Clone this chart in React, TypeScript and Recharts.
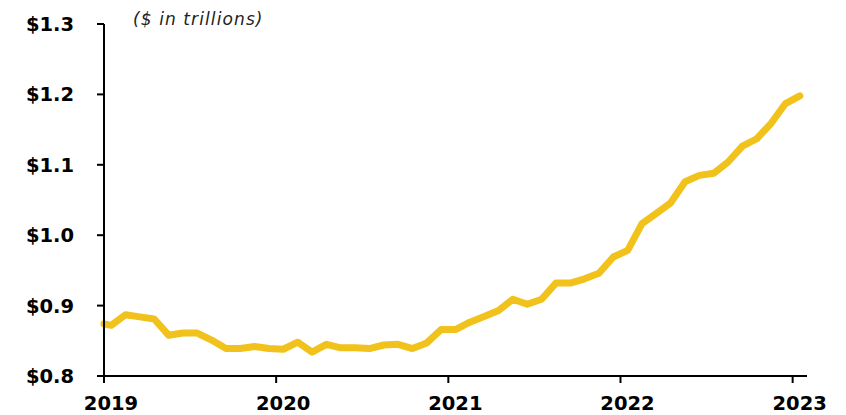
import { LineChart, Line, XAxis, YAxis } from "recharts";

// value at the left edge of the plot (line starts at the axis)
const startValue = 0.874;

// monthly values, Jan 2019 .. Jan 2023 ($ trillions)
const values = [
  0.872, 0.887, 0.884, 0.881, 0.858, 0.861, 0.861, 0.851, 0.839, 0.839, 0.842, 0.839,
  0.838, 0.848, 0.834, 0.845, 0.84, 0.84, 0.839, 0.844, 0.845, 0.839, 0.847, 0.866,
  0.866, 0.8765, 0.8846, 0.893, 0.909, 0.902, 0.909, 0.932, 0.932, 0.938, 0.946, 0.969,
  0.9785, 1.0165, 1.031, 1.046, 1.076, 1.085, 1.088, 1.104, 1.1265, 1.137, 1.159, 1.187,
  1.198,
];

const yearTicks = [0, 12, 24, 36, 48];
const firstYear = 2019;
const yTicks = [0.8, 0.9, 1.0, 1.1, 1.2, 1.3];

const data = [
  { m: 0, v: startValue },
  ...values.map((v, i) => ({ m: i + 0.5, v })),
];

const FONT = "'DejaVu Sans', Verdana, sans-serif";
const tickStyle = { fill: "#000", fontSize: 19.5, fontWeight: 700, fontFamily: FONT };

export default function App() {
  return (
    <div style={{ position: "fixed", left: 0, top: 0, width: 846, height: 415, background: "#fff" }}>
      <LineChart width={846} height={415} data={data} margin={{ top: 24, right: 39, bottom: 0, left: 0 }}>
        <XAxis
          dataKey="m"
          type="number"
          domain={[0, 49]}
          ticks={yearTicks}
          interval={0}
          height={39}
          tickSize={7}
          tickMargin={13}
          tick={{ ...tickStyle, dx: 7 }}
          tickFormatter={(v: number) => String(firstYear + v / 12)}
          axisLine={{ stroke: "#000", strokeWidth: 2 }}
          tickLine={{ stroke: "#000", strokeWidth: 2 }}
        />
        <YAxis
          type="number"
          domain={[0.8, 1.3]}
          ticks={yTicks}
          interval={0}
          width={104}
          tickSize={7}
          tickMargin={23}
          tick={tickStyle}
          tickFormatter={(v: number) => `$${v.toFixed(1)}`}
          axisLine={{ stroke: "#000", strokeWidth: 2 }}
          tickLine={{ stroke: "#000", strokeWidth: 2 }}
        />
        <Line
          type="linear"
          dataKey="v"
          stroke="#F1C21B"
          strokeWidth={7}
          strokeLinecap="round"
          strokeLinejoin="round"
          dot={false}
          activeDot={false}
          isAnimationActive={false}
        />
      </LineChart>
      <svg width={846} height={415} style={{ position: "absolute", left: 0, top: 0, pointerEvents: "none" }}>
        <text x={133} y={25} fontFamily={FONT} fontStyle="italic" fontSize={17} letterSpacing={1.1} fill="#222">
          ($ in trillions)
        </text>
      </svg>
    </div>
  );
}
